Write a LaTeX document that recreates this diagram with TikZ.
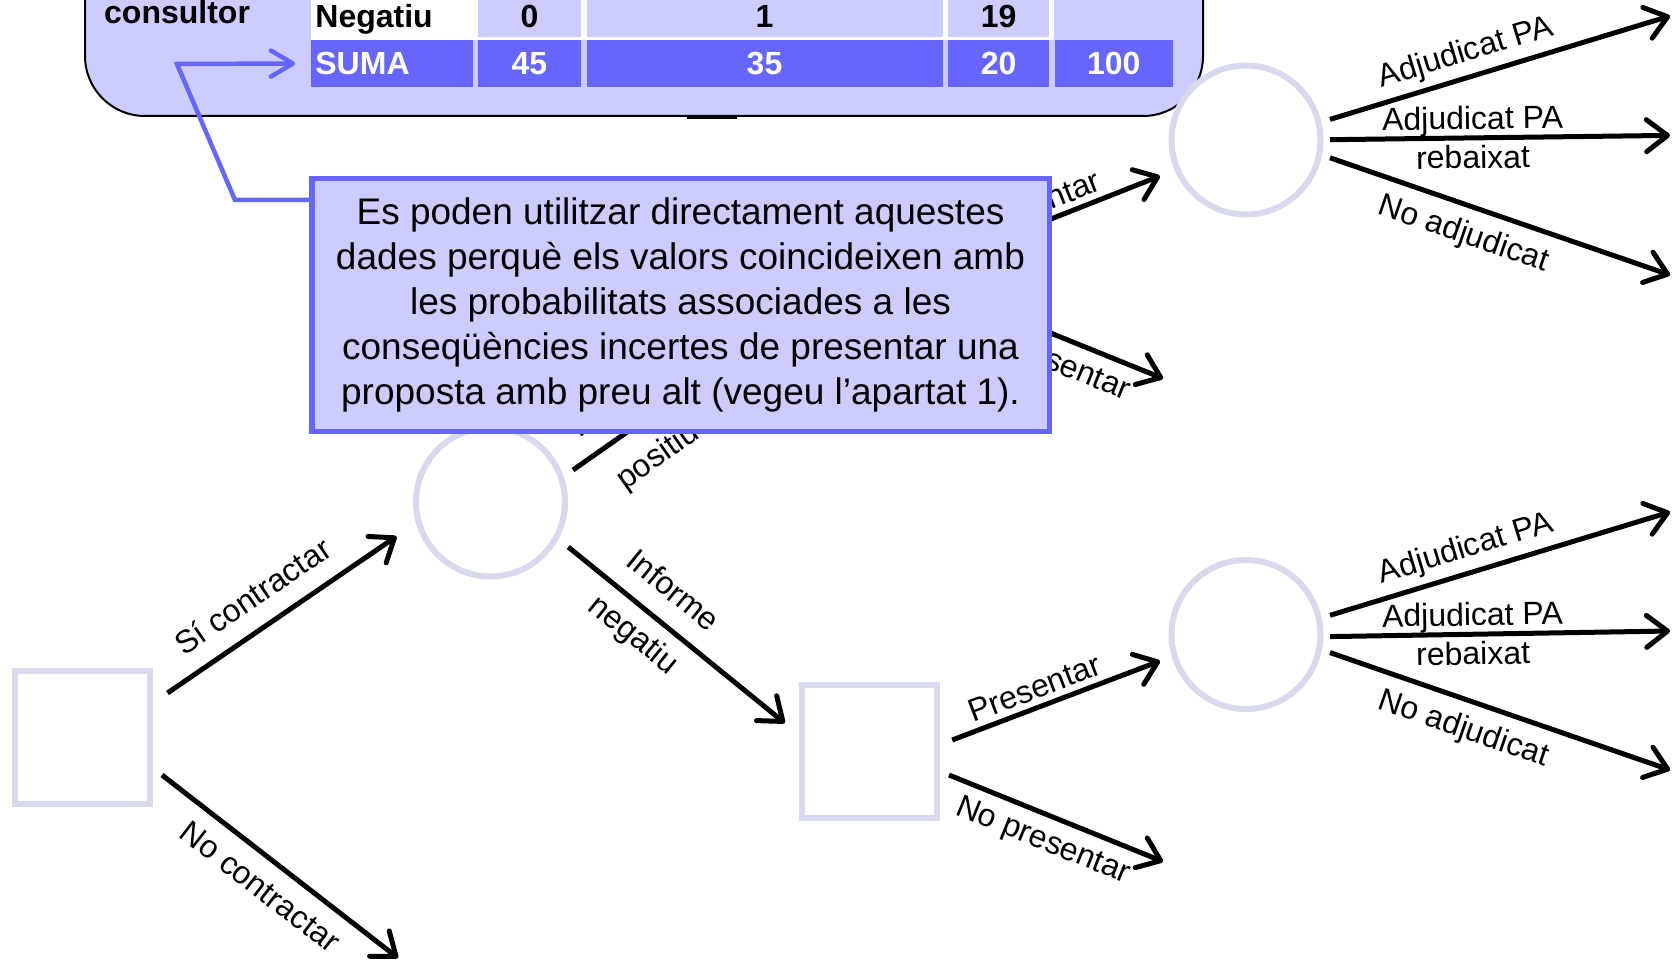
\documentclass[tikz,border=0pt]{standalone}
\usepackage{fontspec}
\setmainfont{Liberation Sans}
\usetikzlibrary{arrows.meta}
\definecolor{panel}{HTML}{CCCCFF}
\definecolor{blu}{HTML}{6666FF}
\definecolor{nodec}{HTML}{D9D9ED}
\begin{document}
\begin{tikzpicture}[x=1pt,y=-1pt,
  lbl/.style={font=\fontsize{32}{38}\selectfont, text height=22pt, text depth=0pt, sloped},
  decn/.style={draw=nodec, line width=6pt, minimum width=135pt, minimum height=133pt, inner sep=0pt},
  chn/.style={draw=nodec, line width=6pt, circle, minimum size=149pt, inner sep=0pt},
  br/.style={line width=5pt, -{Straight Barb[round,length=21pt,width=32pt]}},
  cell/.style={inner sep=0pt, font=\bfseries\fontsize{32}{38}\selectfont, text height=23pt, text depth=0pt},
  row1/.style={cell, fill=panel, minimum height=42pt},
  row2/.style={cell, fill=blu, text=white, minimum height=47pt},
  callout/.style={draw=blu, fill=panel, line width=5.5pt, align=center, inner sep=0pt,
    font=\fontsize{37}{45}\selectfont},
  bluline/.style={draw=blu, line width=4.5pt, line join=miter}
]
\useasboundingbox (0,0) rectangle (1672,965);
\clip (0,0) rectangle (1672,965);

% top panel
\draw[fill=panel, line width=2pt, rounded corners=60pt] (85,-120) rectangle (1203,116);
\draw[line width=3pt] (687,117.5) -- (737,117.5);
\node[anchor=base west, inner sep=0pt, font=\bfseries\fontsize{32}{38}\selectfont] (cons) at (104,24) {consultor};

% table
\fill[white] (311,-10) rectangle (1054,40);
\node[cell, fill=white, minimum height=42pt, minimum width=162pt, text width=154pt, align=left] (neg) at (392.4,16) {Negatiu};
\node[row1, minimum width=103.4pt] (n0) at (529.4,16) {0};
\node[row1, minimum width=356pt] (n1) at (764.5,16) {1};
\node[row1, minimum width=101pt] (n2) at (998.6,16) {19};
\node[row2, minimum width=162pt, text width=154pt, align=left] (suma) at (392.4,63.5) {SUMA};
\node[row2, minimum width=103.4pt] (s0) at (529.4,63.5) {45};
\node[row2, minimum width=356pt] (s1) at (764.5,63.5) {35};
\node[row2, minimum width=101pt] (s2) at (998.6,63.5) {20};
\node[row2, minimum width=118.4pt] (s3) at (1113.8,63.5) {100};

% tree nodes
\node[decn] (d1) at (82.5,737.5) {};
\node[chn] (c1) at (490.5,502) {};
\node[decn] (d2) at (869.5,751.5) {};
\node[decn] (dp) at (869.5,270) {};
\node[chn] (c2) at (1246,634.5) {};
\node[chn] (c3) at (1246,140) {};

\coordinate (nc) at (398,958);
\coordinate (np1) at (1163,378.5);
\coordinate (np2) at (1163,861.6);
\coordinate (a1) at (1670,16);
\coordinate (a2) at (1670,135.4);
\coordinate (a3) at (1670,275);
\coordinate (b1) at (1670,512);
\coordinate (b2) at (1670,631);
\coordinate (b3) at (1670,770);

% branches
\draw[br] ([shift={(85,-44.5)}]d1.center) -- node[lbl,pos=.45,above,inner sep=18pt]{Sí contractar} ([shift={(-94,34.4)}]c1.center);
\draw[br] ([shift={(79.5,37.5)}]d1.center) -- node[lbl,pos=.49,below,inner sep=14.5pt]{No contractar} (nc);

\draw[br] ([shift={(77.8,45)}]c1.center) --
  node[lbl,pos=.39,above,inner sep=19.5pt]{Informe}
  node[lbl,pos=.38,below,inner sep=12pt]{negatiu}
  ([shift={(-84.7,-28.5)}]d2.center);
\draw[br] ([shift={(82.5,-32)}]c1.center) --
  node[lbl,pos=.3,above,inner sep=19.5pt]{Informe}
  node[lbl,pos=.3,below,inner sep=22pt]{positiu}
  ([shift={(-85.5,52)}]dp.center);

\draw[br] ([shift={(82.7,-11.5)}]d2.center) -- node[lbl,pos=.43,above,inner sep=6pt]{Presentar} ([shift={(-86,26.5)}]c2.center);
\draw[br] ([shift={(79.5,23.5)}]d2.center) -- node[lbl,pos=.485,below,inner sep=10pt]{No presentar} (np2);
\draw[br] ([shift={(82.5,-12)}]dp.center) -- node[lbl,pos=.43,above,inner sep=6pt]{Presentar} ([shift={(-86,36)}]c3.center);
\draw[br] ([shift={(79.5,22)}]dp.center) -- node[lbl,pos=.485,below,inner sep=10pt]{No presentar} (np1);

\draw[br] ([shift={(84,-20.6)}]c3.center) -- node[lbl,pos=.42,above,inner sep=13pt]{Adjudicat PA} (a1);
\draw[br] ([shift={(84,-0.3)}]c3.center) --
  node[lbl,pos=.42,above,inner sep=6pt]{Adjudicat PA}
  node[lbl,pos=.42,below,inner sep=6pt]{rebaixat} (a2);
\draw[br] ([shift={(84,17.8)}]c3.center) -- node[lbl,pos=.42,below,inner sep=13pt]{No adjudicat} (a3);

\draw[br] ([shift={(84,-19.2)}]c2.center) -- node[lbl,pos=.42,above,inner sep=13pt]{Adjudicat PA} (b1);
\draw[br] ([shift={(84,2.1)}]c2.center) --
  node[lbl,pos=.42,above,inner sep=6pt]{Adjudicat PA}
  node[lbl,pos=.42,below,inner sep=6pt]{rebaixat} (b2);
\draw[br] ([shift={(84,18.1)}]c2.center) -- node[lbl,pos=.42,below,inner sep=13pt]{No adjudicat} (b3);

% callout
\node[callout, minimum width=737.5pt, minimum height=252.5pt] (note) at (680.5,305)
  {Es poden utilitzar directament aquestes\\
   dades perquè els valors coincideixen amb\\
   les probabilitats associades a les\\
   conseqüències incertes de presentar una\\
   proposta amb preu alt (vegeu l’apartat 1).};

\draw[bluline, -{Straight Barb[round,length=22pt,width=26pt]}]
  ([yshift=-24pt]note.north west) -- (235,200) -- (177,64) -- ([xshift=-16pt]suma.west);
\end{tikzpicture}
\end{document}
